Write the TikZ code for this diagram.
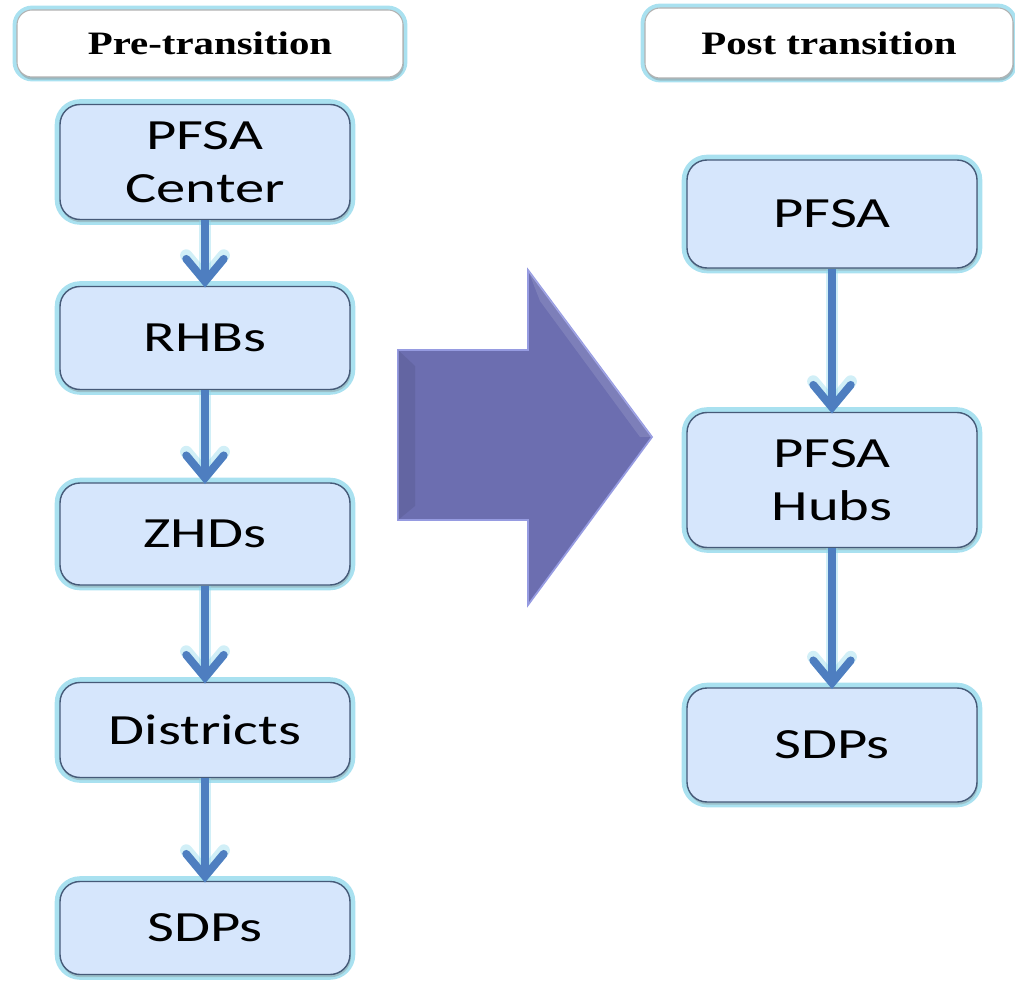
\documentclass[tikz,border=0pt]{standalone}
\usepackage{fontspec}
\usepackage{tikz}
\usetikzlibrary{arrows.meta,shadows}
\newfontfamily\stagefont[FakeStretch=1.36]{Carlito}
\newfontfamily\headfont[FakeStretch=1.25]{Liberation Serif}
\definecolor{stageFill}{RGB}{214,230,252}
\definecolor{stageEdge}{RGB}{70,90,120}
\definecolor{glowCyan}{RGB}{140,215,235}
\definecolor{flowBlue}{RGB}{78,126,192}
\definecolor{bigPurple}{RGB}{108,110,176}
\definecolor{bigEdge}{RGB}{150,155,225}

\begin{document}
\begin{tikzpicture}[
    stage/.style={rectangle, rounded corners=0.4cm, draw=stageEdge, line width=0.8pt, fill=stageFill,
        preaction={draw=glowCyan, line width=6pt, opacity=0.75},
        drop shadow={shadow xshift=0.5pt, shadow yshift=-1.5pt, opacity=0.35},
        minimum width=5.8cm, align=center, font=\stagefont\fontsize{24.5}{30}\selectfont},
    header/.style={rectangle, rounded corners=0.3cm, draw=gray!60, line width=0.6pt, fill=white,
        preaction={draw=glowCyan, line width=5pt, opacity=0.75},
        drop shadow={shadow xshift=0.5pt, shadow yshift=-1.5pt, opacity=0.4},
        font=\headfont\bfseries\fontsize{18.6}{22}\selectfont},
    flow/.style={draw=flowBlue, line width=4.5pt, shorten >=-1pt,
        -{Straight Barb[length=0.45cm, width=0.75cm, line cap=round]},
        preaction={draw=glowCyan, line width=7pt, opacity=0.4, -{Straight Barb[length=0.45cm, width=0.75cm, line cap=round]}}}
]
\useasboundingbox (0,0) rectangle (20.3,19.62);

% Headers (top)
\node[header, minimum width=7.72cm, minimum height=1.34cm] (pre) at (4.2,18.75) {Pre-transition};
\node[header, minimum width=7.36cm, minimum height=1.4cm] (post) at (16.58,18.76) {Post transition};

% Pre-transition chain (left column)
\node[stage, minimum height=2.3cm] (pfsac) at (4.1,16.38) {PFSA\\Center};
\node[stage, minimum height=2.06cm] (rhbs) at (4.1,12.86) {RHBs};
\node[stage, minimum height=2.04cm] (zhds) at (4.1,8.94) {ZHDs};
\node[stage, minimum height=1.9cm] (districts) at (4.1,5.02) {Districts};
\node[stage, minimum height=1.86cm] (sdpsl) at (4.1,1.06) {SDPs};

% Post transition chain (right column)
\node[stage, minimum height=2.16cm] (pfsa) at (16.64,15.34) {PFSA};
\node[stage, minimum height=2.7cm] (hubs) at (16.64,10.02) {PFSA\\Hubs};
\node[stage, minimum height=2.28cm] (sdpsr) at (16.64,4.72) {SDPs};

% Transition arrow (middle)
\fill[bigPurple, draw=bigEdge, line width=1pt, line join=miter]
    (7.96,12.62) -- (10.56,12.62) -- (10.56,14.22) -- (13.04,10.88)
    -- (10.56,7.52) -- (10.56,9.22) -- (7.96,9.22) -- cycle;
\fill[white, opacity=0.12] (10.56,14.22) -- (13.04,10.88) -- (12.8,10.88) -- (10.8,13.6) -- cycle;
\fill[black, opacity=0.08] (7.96,12.62) -- (8.3,12.3) -- (8.3,9.5) -- (7.96,9.22) -- cycle;

% Flow arrows (left)
\draw[flow] (pfsac) -- (rhbs);
\draw[flow] (rhbs) -- (zhds);
\draw[flow] (zhds) -- (districts);
\draw[flow] (districts) -- (sdpsl);

% Flow arrows (right)
\draw[flow] (pfsa) -- (hubs);
\draw[flow] (hubs) -- (sdpsr);

\end{tikzpicture}
\end{document}
